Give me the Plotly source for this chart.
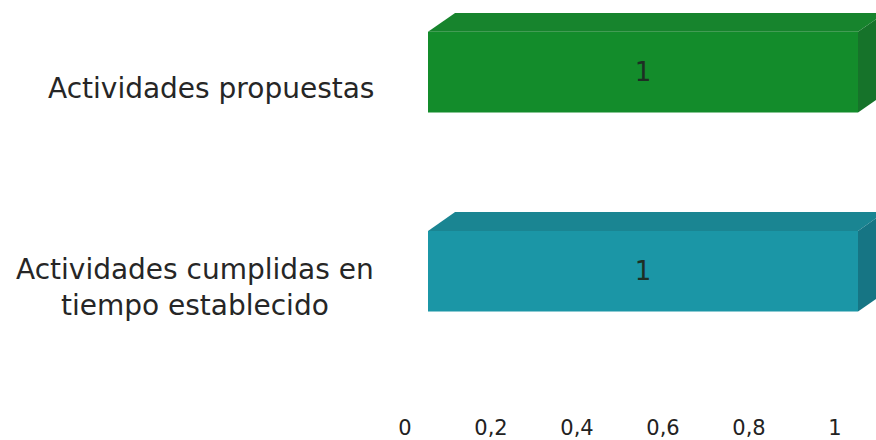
import plotly.graph_objects as go

# ---- data ----
categories = ["Actividades propuestas", "Actividades cumplidas en<br>tiempo establecido"]
values = [1, 1]
positions = [1, 0]
tick_vals = [0, 0.2, 0.4, 0.6, 0.8, 1]

# ---- style ----
front_colors = ["#138C2B", "#1B96A6"]
top_colors = ["#17842D", "#1A8592"]
side_colors = ["#16732A", "#167584"]
bar_h = 0.405          # bar thickness (y units)
dx, dy = 0.063, 0.095  # 3D depth offset (x units, y units)
PX = 430.0             # pixels per x unit
W, H = 876, 440
ML, MB = 428, 25

fig = go.Figure()

# front faces
fig.add_trace(go.Bar(
    x=values, y=positions, orientation="h", width=bar_h,
    marker=dict(color=front_colors, line=dict(width=0)),
    text=[str(v) for v in values], textposition="inside",
    insidetextanchor="middle",
    textfont=dict(family="DejaVu Sans", size=26, color="#1e2e24"),
    showlegend=False, hoverinfo="skip",
))

# 3D top and side faces derived from the values
for v, p, tc, sc in zip(values, positions, top_colors, side_colors):
    yt = p + bar_h / 2
    yb = p - bar_h / 2
    fig.add_trace(go.Scatter(
        x=[0, v, v + dx, dx, 0], y=[yt, yt, yt + dy, yt + dy, yt],
        fill="toself", fillcolor=tc, mode="lines", line=dict(width=0, color=tc),
        showlegend=False, hoverinfo="skip",
    ))
    fig.add_trace(go.Scatter(
        x=[v, v + dx, v + dx, v, v], y=[yb, yb + dy, yt + dy, yt, yb],
        fill="toself", fillcolor=sc, mode="lines", line=dict(width=0, color=sc),
        showlegend=False, hoverinfo="skip",
    ))

plot_w = W - ML
# category labels
for c, p in zip(categories, positions):
    fig.add_annotation(
        text=c, x=0, xref="paper", y=p, yref="y",
        xanchor="right", yanchor="middle", align="center",
        xshift=-52, yshift=-16, showarrow=False,
        font=dict(family="DejaVu Sans", size=28, color="#262626"),
    )

fig.update_layout(
    width=W, height=H,
    margin=dict(l=ML, r=0, t=0, b=MB),
    paper_bgcolor="white", plot_bgcolor="white",
    separators=",.",
    xaxis=dict(
        range=[0, plot_w / PX],
        tickvals=tick_vals, tickformat="~g",
        ticklabelshift=-23,
        showgrid=False, zeroline=False, showline=False, ticks="",
        tickfont=dict(family="DejaVu Sans", size=21, color="#222222"),
        fixedrange=True,
    ),
    yaxis=dict(
        range=[-0.7125, 1.3625], visible=False, fixedrange=True,
    ),
)

fig.write_html("out.html", config={"displayModeBar": False},
               post_script="document.body.style.margin='0';")
